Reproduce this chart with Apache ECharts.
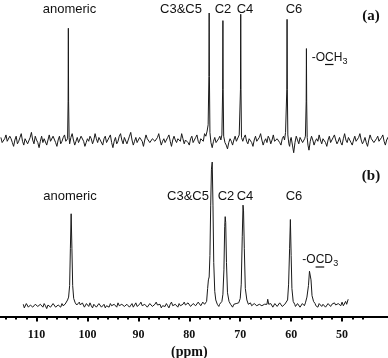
<!DOCTYPE html>
<html>
<head>
<meta charset="utf-8">
<script src="https://cdn.jsdelivr.net/npm/echarts@6/dist/echarts.min.js"></script>
<style>html,body{margin:0;padding:0;background:#fff;}#c{width:388px;height:358px;}</style>
</head>
<body>
<div id="c"></div>
<script>
// Spectrum (a): [ppm, intensity]
const spectrumA = [
[117.0,2],[116.75,-2],[116.5,-3],[116.25,1],[116.0,4],[115.75,-1],[115.5,-2],[115.25,3],[115.0,1],[114.75,-2],
[114.5,-5],[114.25,0],[114.0,3],[113.75,-3],[113.5,-1],[113.25,2],[113.0,5],[112.75,-1],[112.5,-4],[112.25,1],
[112.0,2],[111.75,-3],[111.5,-2],[111.25,2],[111.0,6],[110.75,0],[110.5,-3],[110.25,3],[110.0,0],[109.75,-2],
[109.5,-6],[109.25,-1],[109.0,3],[108.75,-2],[108.5,1],[108.25,2],[108.0,-4],[107.75,0],[107.5,4],[107.25,-1],
[107.0,-2],[106.75,3],[106.5,2],[106.25,-2],[106.0,-5],[105.75,0],[105.5,3],[105.25,-3],[105.0,-1],[104.75,2],
[104.5,4],[104.25,-1],[104.0,-2],
[103.9,1],[103.8,30],[103.75,88],[103.7,30],[103.6,2],
[103.5,-3],[103.25,2],[103.0,5],[102.75,0],[102.5,-4],[102.25,-1],[102.0,2],[101.75,-2],[101.5,-1],[101.25,3],
[101.0,4],[100.75,-1],[100.5,-5],[100.25,-2],[100.0,1],[99.75,-1],[99.5,3],[99.25,1],[99.0,-3],[98.75,0],
[98.5,5],[98.25,1],[98.0,-2],[97.75,2],[97.5,0],[97.25,-1],[97.0,-4],[96.75,1],[96.5,3],[96.25,-2],
[96.0,-1],[95.75,2],[95.5,4],[95.25,-2],[95.0,-6],[94.75,-1],[94.5,2],[94.25,-3],[94.0,-1],[93.75,3],
[93.5,5],[93.25,0],[93.0,-3],[92.75,2],[92.5,1],[92.25,-3],[92.0,-2],[91.75,3],[91.5,6],[91.25,0],
[91.0,-4],[90.75,-1],[90.5,2],[90.25,-2],[90.0,-1],[89.75,2],[89.5,3],[89.25,-1],[89.0,-5],[88.75,0],
[88.5,4],[88.25,1],[88.0,0],[87.75,-2],[87.5,-3],[87.25,1],[87.0,2],[86.75,-1],[86.5,-2],[86.25,2],
[86.0,5],[85.75,0],[85.5,-4],[85.25,-1],[85.0,1],[84.75,-2],[84.5,-1],[84.25,2],[84.0,4],[83.75,-1],
[83.5,-5],[83.25,0],[83.0,3],[82.75,0],[82.5,-2],[82.25,1],[82.0,2],[81.75,-1],[81.5,5],[81.25,1],
[81.0,-3],[80.75,0],[80.5,1],[80.25,-2],[80.0,-4],[79.75,1],[79.5,3],[79.25,-2],[79.0,-1],[78.75,2],
[78.5,4],[78.25,-1],[78.0,-3],[77.75,1],[77.5,2],[77.25,-1],[77.0,5],[76.75,3],[76.5,7],[76.3,12],
[76.15,50],[76.1,100],[76.05,50],[75.95,6],
[75.75,-2],[75.5,-6],[75.25,-1],[75.0,2],[74.75,-2],[74.5,-3],[74.25,1],[74.0,3],[73.8,0],[73.6,4],
[73.45,40],[73.4,94],[73.35,40],[73.25,3],
[73.0,-2],[72.75,-4],[72.5,-7],[72.25,-2],[72.0,1],[71.75,-1],[71.5,-4],[71.25,0],[71.0,3],[70.75,-1],
[70.5,-2],[70.2,4],
[69.95,40],[69.9,99],[69.85,40],[69.75,2],
[69.5,-1],[69.25,2],[69.0,4],[68.75,-1],[68.5,-3],[68.25,1],[68.0,2],[67.75,-2],[67.5,-5],[67.25,0],
[67.0,3],[66.75,-1],[66.5,-1],[66.25,2],[66.0,5],[65.75,0],[65.5,-4],[65.25,-1],[65.0,1],[64.75,-2],
[64.5,3],[64.25,1],[64.0,-3],[63.75,0],[63.5,4],[63.25,-1],[63.0,-2],[62.75,1],[62.5,2],[62.25,-2],
[62.0,-4],[61.75,1],[61.5,3],[61.3,0],[61.1,6],
[60.85,40],[60.8,95],[60.75,40],[60.65,4],
[60.45,-3],[60.3,-5],[60.15,0],[60.0,2],[59.75,-4],[59.5,-10],[59.25,-2],[59.0,3],[58.75,0],[58.5,-3],
[58.25,2],[58.0,1],[57.75,-2],[57.5,-2],[57.35,1],[57.2,3],
[57.05,30],[57.0,72],[56.95,30],[56.85,2],
[56.7,-4],[56.5,-8],[56.25,-1],[56.0,3],[55.75,0],[55.5,-4],[55.25,-1],[55.0,1],[54.75,-1],[54.5,4],
[54.25,0],[54.0,-3],[53.75,1],[53.5,2],[53.25,-2],[53.0,-5],[52.75,0],[52.5,3],[52.25,-2],[52.0,-1],
[51.75,2],[51.5,4],[51.25,0],[51.0,-3],[50.75,-1],[50.5,2],[50.25,-2],[50.0,-4],[49.75,1],[49.5,5],
[49.25,0],[49.0,-2],[48.75,2],[48.5,1],[48.25,-2],[48.0,-4],[47.75,0],[47.5,3],[47.25,-1],[47.0,-1],
[46.75,2],[46.5,5],[46.25,0],[46.0,-3],[45.75,-1],[45.5,2],[45.25,-2],[45.0,-5],[44.75,0],[44.5,4],
[44.25,1],[44.0,0],[43.75,-2],[43.5,-3],[43.25,1],[43.0,3],[42.75,-1],[42.5,-2],[42.25,2],[42.0,4],
[41.75,-1],[41.5,-4],[41.25,0],[41.0,2],[40.75,-2],[40.5,0]
];

// Spectrum (b): [ppm, intensity]
const spectrumB = [
[112.6,1],[112.4,-1.5],[112.2,-1],[112.0,1.5],[111.8,0.5],[111.6,-1],[111.4,-2],[111.2,0.5],[111.0,1.5],[110.75,-1],
[110.5,-0.5],[110.25,1],[110.0,2],[109.75,-0.5],[109.5,-1.5],[109.25,1],[109.0,0],[108.75,-1],[108.5,1.5],[108.25,0],
[108.0,-2],[107.75,0.5],[107.5,1],[107.25,-1],[107.0,-0.5],[106.75,1.5],[106.5,1],[106.25,-1],[106.0,-1.5],[105.75,0.5],
[105.5,0],[105.25,-1],[105.0,1.5],[104.8,0],[104.6,-0.5],[104.4,1],
[104.2,1],[103.9,4],[103.7,6],[103.5,14],[103.35,40],[103.2,64],[103.05,40],[102.9,14],[102.7,5],[102.4,2],[102.1,0.5],
[101.85,1],[101.6,2.5],[101.4,0.5],[101.2,0],[101.0,2],[100.8,1],[100.6,-1],[100.4,-1],[100.2,1.5],[100.0,0.5],
[99.75,-0.5],[99.5,2],[99.25,0],[99.0,-1.5],[98.75,1],[98.5,0.5],[98.25,-1],[98.0,-1],[97.75,1.5],[97.5,1],
[97.25,-1],[97.0,0],[96.75,1],[96.5,-1.5],[96.25,0],[96.0,0.5],[95.75,-1],[95.5,1.5],[95.25,0],[95.0,-1],
[94.75,1],[94.5,0],[94.25,-1],[94.0,2],[93.75,0],[93.5,-1],[93.25,1],[93.0,0.5],[92.75,-0.5],[92.5,-1.5],
[92.25,1],[92.0,1],[91.75,-1],[91.5,0],[91.25,1.5],[91.0,-1],[90.75,0],[90.5,2],[90.25,-0.5],[90.0,0],
[89.75,1],[89.5,2.5],[89.25,0],[89.0,-1],[88.75,1],[88.5,0.5],[88.25,-1],[88.0,-0.5],[87.75,1.5],[87.5,1],
[87.25,-0.5],[87.0,-1.5],[86.75,1],[86.5,2.5],[86.25,0.5],[86.0,0],[85.75,1],[85.5,-1.5],[85.25,0],[85.0,0.5],
[84.75,-0.5],[84.5,1.5],[84.25,0],[84.0,-1.5],[83.75,1],[83.5,2.5],[83.25,0],[83.0,-0.5],[82.75,1],[82.5,0.5],
[82.25,-1],[82.0,1.5],[81.75,0],[81.5,-1],[81.25,1],[81.0,2.5],[80.75,0.5],[80.5,0],[80.25,2],[80.0,1],
[79.75,-0.5],[79.5,-0.5],[79.25,1.5],[79.0,2],[78.75,0],[78.5,0.5],[78.25,2.5],[78.0,2],[77.75,0],[77.5,1],
[77.35,2.5],[77.2,1.5],
[77.0,1],[76.6,3],[76.4,12],[76.25,18],[76.1,20],[75.95,35],[75.8,70],[75.65,95],[75.5,100],[75.35,70],[75.2,30],[75.0,10],[74.8,4],[74.5,1],
[74.2,-0.5],[74.05,1],[73.9,1],
[73.6,3],[73.4,8],[73.2,25],[73.05,55],[72.95,62],[72.85,58],[72.7,30],[72.5,9],[72.2,3],[71.9,1],
[71.7,0],[71.5,-1],[71.25,1],[71.0,0],[70.8,1.5],[70.6,1],
[70.3,2],[70.0,5],[69.8,15],[69.6,48],[69.45,70],[69.35,66],[69.2,40],[69.0,12],[68.7,4],[68.4,1],
[68.2,0],[68.0,2],[67.75,0],[67.5,-0.5],[67.25,1.5],[67.0,2],[66.75,0],[66.5,-1],[66.25,1],[66.0,1.5],
[65.75,0],[65.5,-0.5],[65.25,1],[65.0,2],[64.75,1],[64.6,4.5],[64.4,1],[64.2,0],[64.0,1.5],[63.8,1],
[63.6,-1],[63.4,0],[63.2,1.5],[63.0,1],[62.75,-0.5],[62.5,0],[62.25,2],[62.0,1.5],[61.75,-0.5],[61.5,0],[61.25,1],
[61.0,1],[60.7,4],[60.5,15],[60.3,40],[60.15,60],[60.0,35],[59.85,12],[59.6,3],[59.3,1],
[59.15,-0.5],[59.0,0],[58.75,1.5],[58.5,1],[58.25,-1],[58.0,0],[57.8,1.5],[57.6,1],[57.4,0],
[57.2,2],[56.9,6],[56.6,14],[56.4,24],[56.25,25],[56.1,18],[55.9,7],[55.6,3],[55.3,1.5],
[55.15,0],[55.0,0.5],[54.75,-1],[54.5,1.5],[54.25,1],[54.0,-0.5],[53.75,1],[53.5,1],[53.25,-1],[53.0,0],
[52.75,1.5],[52.5,0.5],[52.25,-0.5],[52.0,1],[51.75,0],[51.5,2],[51.25,0.5],[51.0,-0.5],[50.75,1.5],[50.5,0.5],
[50.25,0],[50.0,2.5],[49.75,0],[49.5,1],[49.3,3],[49.1,1],[48.95,2],[48.8,4.5]
];

const majorTicks = [110, 100, 90, 80, 70, 60, 50];
const minorTicks = [116, 114, 112, 108, 106, 104, 102, 98, 96, 94, 92, 88, 86, 84, 82,
  78, 76, 74, 72, 68, 66, 64, 62, 58, 56, 54, 52, 48, 46];
const peakLabels = ['anomeric', 'C3&C5', 'C2', 'C4', 'C6'];

const SANS = '"Liberation Sans", Arial, sans-serif';
const SERIF = '"Liberation Serif", "Times New Roman", serif';

const chart = echarts.init(document.getElementById('c'), null, {renderer: 'canvas'});

function txt(t, x, y, font, align) {
  return {type: 'text', silent: true, style: {text: t, x: x, y: y, font: font, fill: '#111',
    textAlign: align || 'center', align: align || 'center', textVerticalAlign: 'middle', verticalAlign: 'middle'}};
}
function uline(x1, x2, y) {
  return {type: 'line', silent: true, shape: {x1: x1, y1: y, x2: x2, y2: y}, style: {stroke: '#111', lineWidth: 1.2}};
}

const labelXA = [69.5, 181, 223, 245, 294];
const labelXB = [70, 188, 226, 245, 294];
const graphics = [];
peakLabels.forEach((l, i) => graphics.push(txt(l, labelXA[i], 9, '13px ' + SANS)));
peakLabels.forEach((l, i) => graphics.push(txt(l, labelXB[i], 196, '13px ' + SANS)));
graphics.push(txt('(a)', 371, 16, 'bold 15px ' + SERIF));
graphics.push(txt('(b)', 371, 176, 'bold 15px ' + SERIF));
graphics.push(txt('-OCH', 311.7, 57.5, '12px ' + SANS, 'left'));
graphics.push(txt('3', 342.6, 61.5, '9px ' + SANS, 'left'));
graphics.push(uline(325, 333.5, 64.5));
graphics.push(txt('-OCD', 302.3, 260, '12px ' + SANS, 'left'));
graphics.push(txt('3', 333.2, 264, '9px ' + SANS, 'left'));
graphics.push(uline(315.6, 324.2, 267));

const option = {
  animation: false,
  backgroundColor: '#fff',
  grid: [
    {left: -14.4, right: -5, top: 6.65, height: 154.95, outerBoundsMode: 'none'},
    {left: -14.4, right: -5, top: 156.3, bottom: 41.5, outerBoundsMode: 'none'}
  ],
  xAxis: [
    {type: 'value', gridIndex: 0, min: 40, max: 120, inverse: true, show: false},
    {type: 'value', gridIndex: 1, min: 40, max: 120, inverse: true,
      axisLine: {show: true, onZero: false, lineStyle: {color: '#000', width: 2}},
      axisTick: {show: true, customValues: majorTicks, length: 5, lineStyle: {color: '#000', width: 2}},
      axisLabel: {show: true, customValues: majorTicks, margin: 12, color: '#111',
        fontFamily: SERIF, fontWeight: 'bold', fontSize: 12},
      splitLine: {show: false},
      name: '(ppm)', nameLocation: 'middle', nameGap: 29,
      nameTextStyle: {fontFamily: SERIF, fontWeight: 'bold', fontSize: 14, color: '#111'}},
    {type: 'value', gridIndex: 1, min: 40, max: 120, inverse: true, position: 'bottom',
      axisLine: {show: false, onZero: false},
      axisTick: {show: true, customValues: minorTicks, length: 3, lineStyle: {color: '#000', width: 2}},
      axisLabel: {show: false}, splitLine: {show: false}}
  ],
  yAxis: [
    {type: 'value', gridIndex: 0, min: -17, max: 105, show: false},
    {type: 'value', gridIndex: 1, min: -7.5, max: 104, show: false}
  ],
  series: [
    {type: 'line', xAxisIndex: 0, yAxisIndex: 0, data: spectrumA, showSymbol: false, symbol: 'none',
      lineStyle: {color: '#1a1a1a', width: 1}, clip: true},
    {type: 'line', xAxisIndex: 1, yAxisIndex: 1, data: spectrumB, showSymbol: false, symbol: 'none',
      lineStyle: {color: '#1a1a1a', width: 1}, clip: true}
  ],
  graphic: graphics
};
chart.setOption(option);
</script>
</body>
</html>
